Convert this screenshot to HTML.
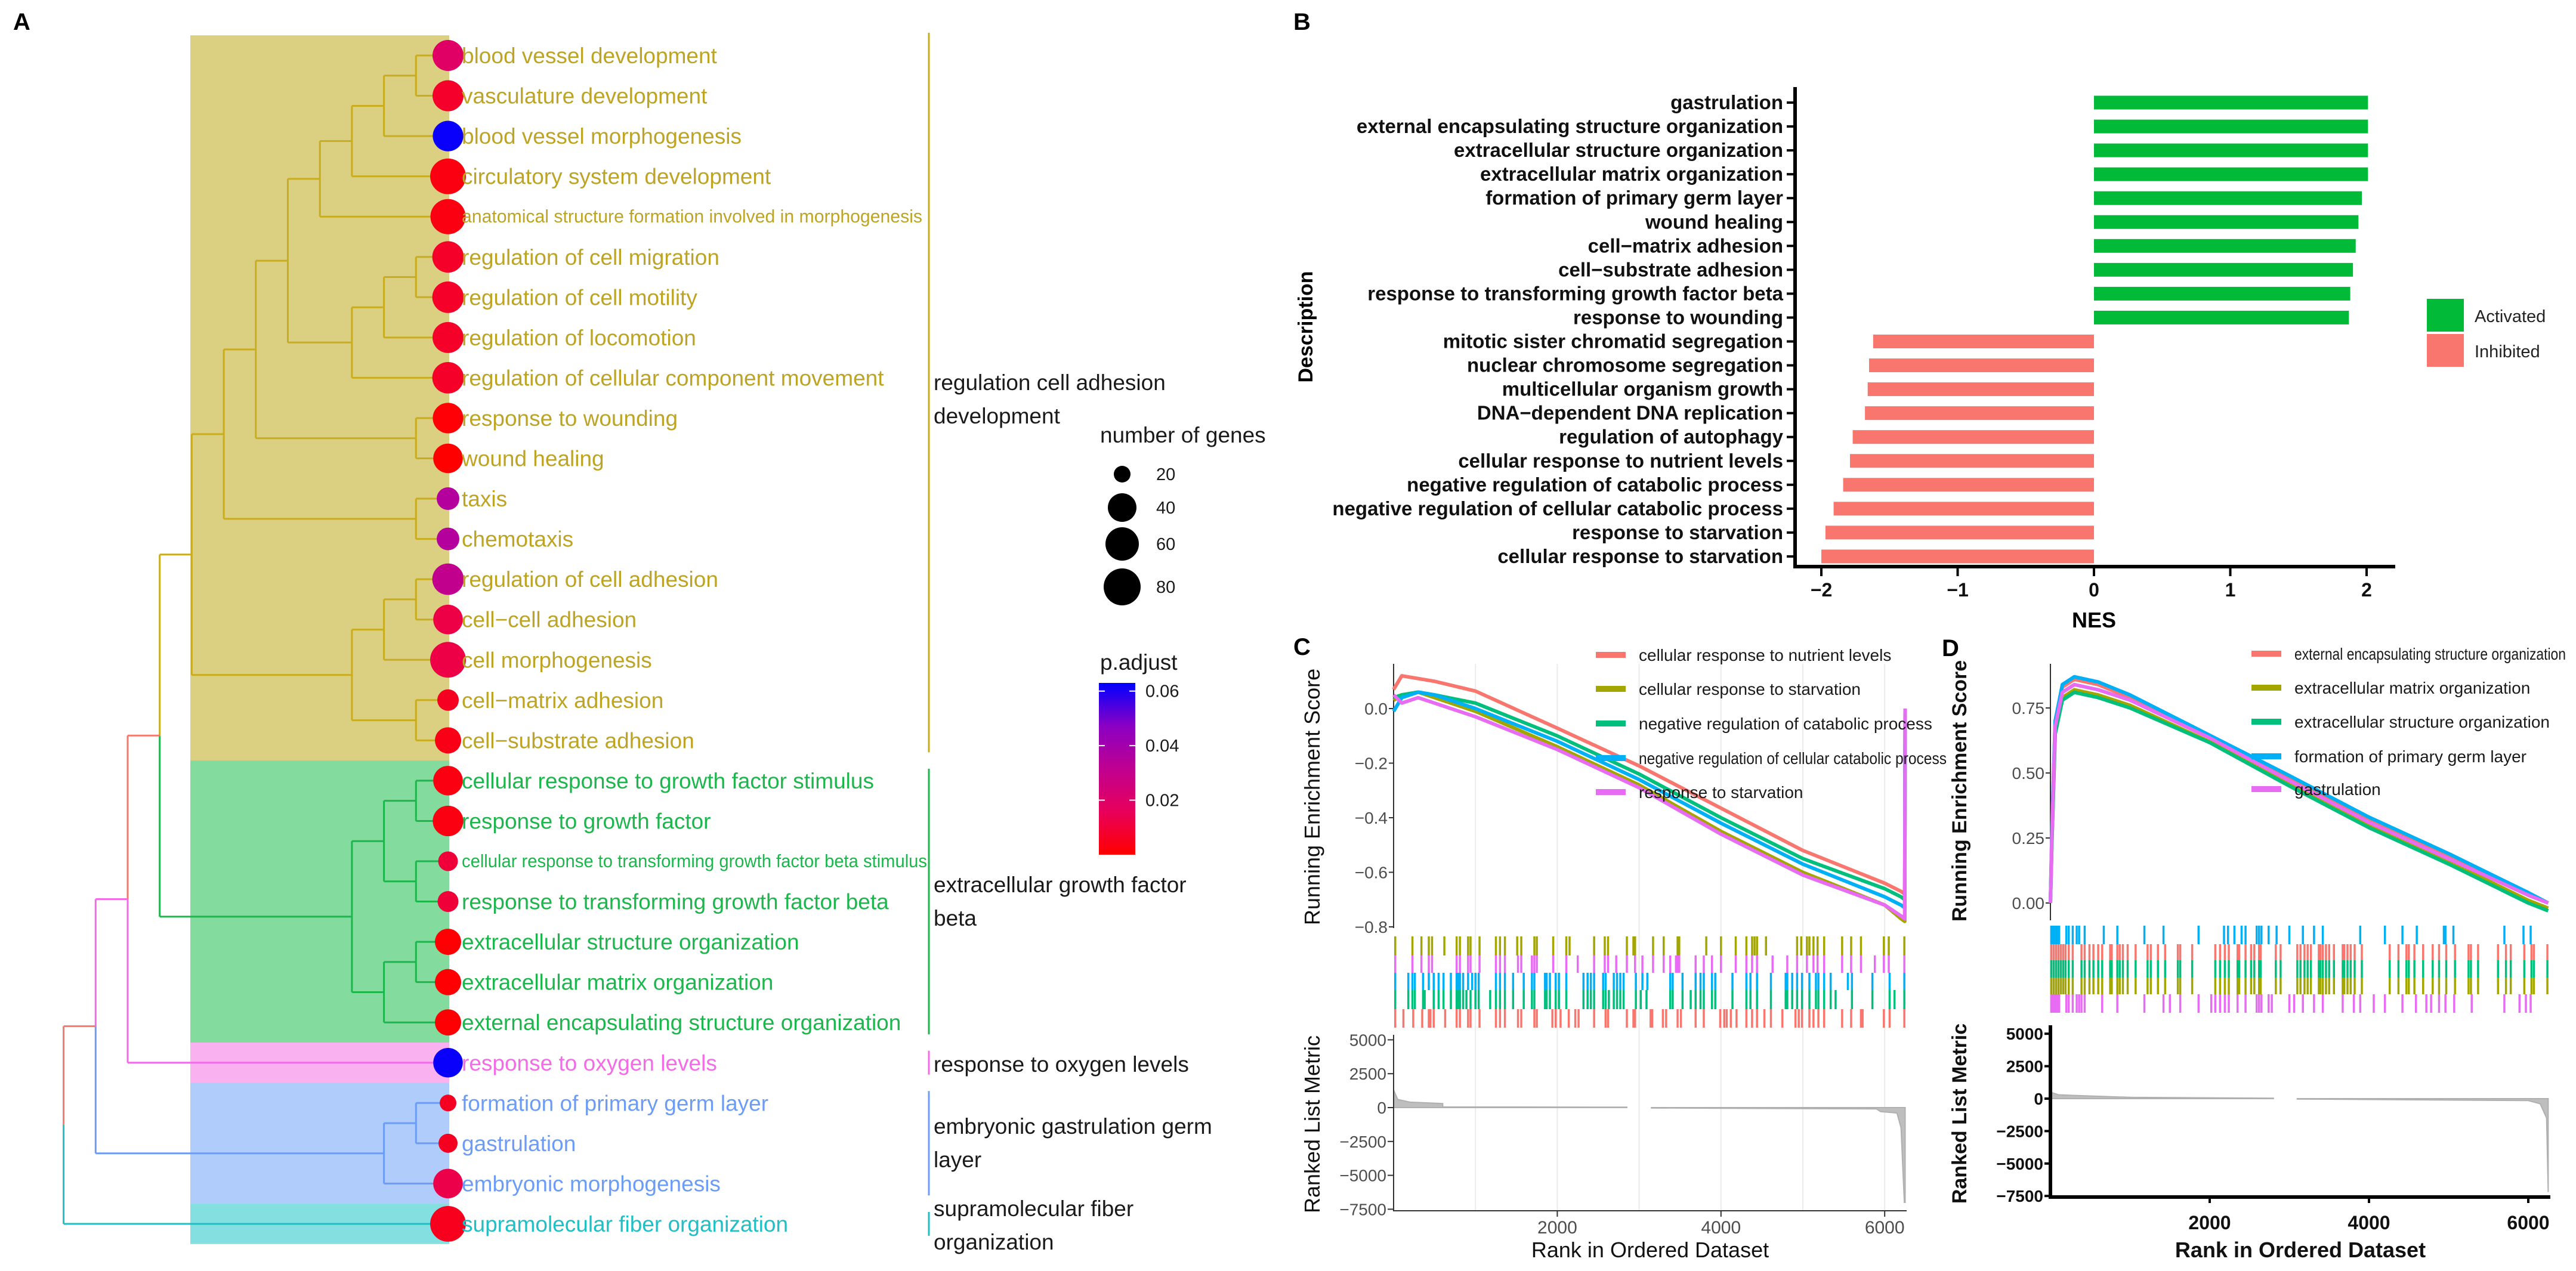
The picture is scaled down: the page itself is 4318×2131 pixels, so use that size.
<!DOCTYPE html>
<html><head><meta charset="utf-8">
<style>
body{margin:0;background:#fff}
svg{display:block;font-family:"Liberation Sans",Arial,sans-serif}
</style></head>
<body>
<svg id="fig" width="4318" height="2131" viewBox="0 0 4318 2131">
<defs>
<linearGradient id="pgrad" x1="0" y1="1" x2="0" y2="0">
<stop offset="0" stop-color="#FF0000"/><stop offset="0.25" stop-color="#E8005A"/><stop offset="0.5" stop-color="#C00090"/><stop offset="0.75" stop-color="#8A00C4"/><stop offset="1" stop-color="#0000FF"/>
</linearGradient>
</defs>
<rect width="4318" height="2131" fill="#fff"/>
<text x="22" y="50" font-size="40" font-weight="bold">A</text>
<text x="2168" y="50" font-size="40" font-weight="bold">B</text>
<text x="2168" y="1098" font-size="40" font-weight="bold">C</text>
<text x="3255" y="1100" font-size="40" font-weight="bold">D</text>
<g id="gA"></g>
<g id="gB"></g>
<g id="gC"></g>
<g id="gD"></g>
</svg>
<script>
// ---------- Panel A data ----------
const termLabels=["blood vessel development","vasculature development","blood vessel morphogenesis","circulatory system development","anatomical structure formation involved in morphogenesis","regulation of cell migration","regulation of cell motility","regulation of locomotion","regulation of cellular component movement","response to wounding","wound healing","taxis","chemotaxis","regulation of cell adhesion","cell\u2212cell adhesion","cell morphogenesis","cell\u2212matrix adhesion","cell\u2212substrate adhesion","cellular response to growth factor stimulus","response to growth factor","cellular response to transforming growth factor beta stimulus","response to transforming growth factor beta","extracellular structure organization","extracellular matrix organization","external encapsulating structure organization","response to oxygen levels","formation of primary germ layer","gastrulation","embryonic morphogenesis","supramolecular fiber organization"];
const termCluster=[0,0,0,0,0,0,0,0,0,0,0,0,0,0,0,0,0,0,1,1,1,1,1,1,1,2,3,3,3,4];
const geneCounts=[50,50,48,73,70,52,52,50,52,48,44,30,30,52,44,73,28,36,44,48,25,27,36,36,36,44,20,24,44,73];
const pAdjust=[0.019,0.0075,0.062,0.003,0.003,0.007,0.007,0.007,0.007,0.001,0.0002,0.035,0.035,0.031,0.012,0.012,0.006,0.004,0.003,0.003,0.01,0.01,0.0005,0.0005,0.0005,0.062,0.006,0.006,0.013,0.005];
const clusterNames=[["regulation cell adhesion","development"],["extracellular growth factor","beta"],["response to oxygen levels"],["embryonic gastrulation germ","layer"],["supramolecular fiber","organization"]];
const sizeLegendValues=[20,40,60,80];
const pLegendTicks=[0.02,0.04,0.06];
// tree: [height, left, right, colourOverride]
const treeA=[12,[11,[10,[9,[8,[7,[6,[5,[4,[3,[2,[1,0,1],2],3],4],[3,[2,[1,5,6],7],8]],[1,9,10]],[1,11,12]],[3,[2,[1,13,14],15],[1,16,17]]],[3,[2,[1,18,19],[1,20,21]],[2,[1,22,23],24]]],25,'pink'],[2,[1,26,27],28]],29];

// ---------- Panel B data ----------
const bLabels=["gastrulation","external encapsulating structure organization","extracellular structure organization","extracellular matrix organization","formation of primary germ layer","wound healing","cell\u2212matrix adhesion","cell\u2212substrate adhesion","response to transforming growth factor beta","response to wounding","mitotic sister chromatid segregation","nuclear chromosome segregation","multicellular organism growth","DNA\u2212dependent DNA replication","regulation of autophagy","cellular response to nutrient levels","negative regulation of catabolic process","negative regulation of cellular catabolic process","response to starvation","cellular response to starvation"];
const nesValues=[2.01,2.01,2.01,2.01,1.965,1.94,1.92,1.90,1.88,1.87,-1.62,-1.65,-1.66,-1.68,-1.77,-1.79,-1.84,-1.91,-1.97,-2.00];
const nesTicks=[-2,-1,0,1,2];

// ---------- Panel C data ----------
const cNames=["cellular response to nutrient levels","cellular response to starvation","negative regulation of catabolic process","negative regulation of cellular catabolic process","response to starvation"];
const cRanks=[0,100,300,500,1000,2000,3000,4000,5000,6000,6200,6245,6250];
const cRed=[0.07,0.12,0.11,0.10,0.064,-0.072,-0.21,-0.365,-0.52,-0.64,-0.67,-0.68,0];
const cOlive=[0.03,0.05,0.06,0.04,-0.01,-0.14,-0.28,-0.45,-0.60,-0.72,-0.77,-0.78,0];
const cGreen=[0.04,0.05,0.06,0.05,0.02,-0.10,-0.24,-0.40,-0.55,-0.66,-0.69,-0.70,0];
const cBlue=[-0.01,0.04,0.06,0.05,0.0,-0.12,-0.26,-0.42,-0.57,-0.69,-0.72,-0.73,0];
const cPink=[0.05,0.02,0.04,0.02,-0.03,-0.15,-0.29,-0.46,-0.61,-0.72,-0.76,-0.77,0];
const cHitsOlive=[20,230,340,430,470,620,770,810,910,940,1050,1250,1300,1360,1510,1560,1720,1750,1950,2110,2150,2450,2580,2620,2850,2930,2950,3170,3300,3470,3490,3820,4000,4180,4310,4380,4410,4440,4550,4930,4980,5050,5080,5130,5180,5260,5480,5590,5710,5990,6050,6240];
const cHitsPink=[20,230,340,430,470,770,810,910,940,1050,1250,1300,1360,1520,1560,1690,1720,1750,1950,2110,2250,2450,2580,2620,2720,2850,2950,3040,3170,3300,3380,3450,3470,3490,3690,3790,3890,4000,4180,4310,4380,4440,4630,4810,4930,5050,5130,5180,5260,5480,5590,5710,5880,5990,6050,6240];
const cHitsBlue=[20,180,230,260,360,430,490,550,610,700,770,790,810,850,910,960,1000,1040,1250,1300,1360,1460,1590,1690,1720,1850,1870,1910,1980,2020,2110,2320,2370,2410,2450,2560,2590,2690,2730,2770,2810,2960,3040,3100,3380,3410,3530,3690,3750,3790,3890,3930,4140,4310,4360,4440,4610,4790,4810,4870,4930,4990,5080,5160,5190,5260,5340,5550,5600,5850,6060,6240];
const cHitsGreen=[20,180,230,260,360,380,490,550,610,700,770,790,810,850,890,940,1000,1040,1180,1250,1300,1360,1460,1590,1690,1720,1850,1870,1910,1980,2020,2110,2320,2370,2410,2450,2560,2590,2630,2690,2730,2770,2810,2960,3020,3090,3380,3410,3530,3630,3690,3750,3790,3890,3930,4140,4310,4360,4440,4610,4790,4810,4870,4930,4990,5080,5160,5190,5260,5340,5400,5600,5850,6060,6120,6240];
const cHitsRed=[20,120,240,350,430,450,490,630,770,810,910,940,1050,1250,1300,1360,1520,1560,1720,1750,1940,1980,2040,2140,2220,2260,2450,2590,2620,2850,2930,2950,3140,3160,3290,3330,3470,3510,3690,3790,3990,4040,4070,4120,4190,4310,4380,4440,4530,4610,4750,4910,4950,4990,5080,5130,5190,5260,5480,5590,5710,5730,5990,6060,6240];
const cMetricRanksA=[0,50,200,600,601,2850];
const cMetricValsA=[1300,600,400,300,50,30];
const cMetricRanksB=[3150,5900,5950,6150,6200,6240,6250];
const cMetricValsB=[-30,-100,-300,-400,-1500,-7000,-7000];
const cEsTicks=[0.0,-0.2,-0.4,-0.6,-0.8];
const metricTicks=[5000,2500,0,-2500,-5000,-7500];
const rankTicks=[2000,4000,6000];

// ---------- Panel D data ----------
const dNames=["external encapsulating structure organization","extracellular matrix organization","extracellular structure organization","formation of primary germ layer","gastrulation"];
const dRanks=[0,20,60,150,300,600,1000,2000,3000,4000,5000,6000,6250];
const dRed=[0,0.3,0.7,0.83,0.86,0.84,0.79,0.64,0.48,0.32,0.18,0.03,0.0];
const dOlive=[0,0.25,0.65,0.79,0.82,0.80,0.76,0.62,0.46,0.30,0.16,0.01,-0.02];
const dGreen=[0,0.25,0.65,0.78,0.81,0.79,0.75,0.617,0.45,0.29,0.15,0.0,-0.03];
const dBlue=[0,0.3,0.7,0.84,0.87,0.85,0.80,0.645,0.49,0.33,0.19,0.04,0.0];
const dPink=[0,0.28,0.68,0.81,0.84,0.82,0.78,0.635,0.47,0.31,0.17,0.03,0.0];
const dHitsBlue=[10,30,50,70,90,110,200,230,280,330,360,430,670,840,1180,1420,1860,2180,2230,2310,2400,2450,2590,2620,2650,2740,2840,3000,3170,3310,3420,3890,4200,4420,4600,4940,4960,5060,5700,5940,6030];
const dHitsShared=[10,40,70,100,130,160,190,230,280,390,430,490,540,600,650,750,770,840,870,910,970,1070,1220,1260,1350,1440,1600,1630,1780,2070,2130,2190,2240,2350,2370,2450,2520,2560,2620,2640,2830,2890,3100,3140,3190,3230,3270,3370,3390,3420,3460,3500,3560,3670,3690,3730,3770,3820,3910,4260,4370,4470,4500,4570,4680,4800,4880,4970,5080,5250,5280,5370,5620,5720,5780,5950,6040,6070,6240];
const dHitsPink=[10,30,50,70,90,110,200,230,280,330,360,390,430,650,840,1180,1420,1500,1630,1860,2020,2070,2130,2190,2240,2350,2450,2590,2620,2650,2740,2780,3000,3060,3170,3310,3420,3670,3810,3890,4060,4200,4420,4590,4720,4780,4880,4960,5070,5290,5700,5890,5970,6030];
const dMetricRanksA=[0,100,300,1000,2800];
const dMetricValsA=[500,300,250,100,30];
const dMetricRanksB=[3100,6000,6150,6230,6250];
const dMetricValsB=[-30,-150,-400,-1500,-7200];
const dEsTicks=[0.00,0.25,0.50,0.75];

// ---------- helpers ----------
const NS='http://www.w3.org/2000/svg';
function mk(tag,attrs,parent,txt){const e=document.createElementNS(NS,tag);for(const k in attrs)e.setAttribute(k,attrs[k]);if(txt!==undefined)e.textContent=txt;parent.appendChild(e);return e;}
const gA=document.getElementById('gA'),gB=document.getElementById('gB'),gC=document.getElementById('gC'),gD=document.getElementById('gD');
const SERIES=['#F8766D','#A3A500','#00BF7D','#00B0F6','#E76BF3'];

// ---------- Panel A ----------
const CL_LINE=['#C9AD1F','#1DB64C','#F46BE8','#6C9CF5','#1FBFC6'];
const CL_FILL=['#DBCF82','#83DB9E','#F9B1EF','#B0CCFB','#84DFE0'];
const CL_TEXT=['#BDA424','#1DB64C','#F46BE8','#6C9CF5','#1FBFC6'];
const RED='#F47A6E';
function leafY(i){return 93+67.55*i;}
function hx(h){return 751-53.7*h;}
const LEAFX=751;
function sizeR(n){const r=[14,24,28,31];const v=sizeLegendValues;if(n<=v[0])return r[0]*Math.sqrt(n/v[0]);for(let i=1;i<v.length;i++){if(n<=v[i])return r[i-1]+(r[i]-r[i-1])*(n-v[i-1])/(v[i]-v[i-1]);}return r[3]+(n-80)*0.15;}
const STOPS=[[0,[255,0,0]],[0.25,[232,0,90]],[0.5,[192,0,144]],[0.75,[138,0,196]],[1,[0,0,255]]];
const PMAX=0.063;
function pColor(p){let t=Math.max(0,Math.min(1,p/PMAX));for(let i=1;i<STOPS.length;i++){if(t<=STOPS[i][0]){const a=STOPS[i-1],b=STOPS[i];const f=(t-a[0])/(b[0]-a[0]);const c=a[1].map((x,k)=>Math.round(x+(b[1][k]-x)*f));return 'rgb('+c.join(',')+')';}}return 'rgb(0,0,255)';}
for(let c=0;c<5;c++){
  const idx=termCluster.map((v,i)=>v===c?i:-1).filter(i=>i>=0);
  const y0=leafY(idx[0])-33.8,y1=leafY(idx[idx.length-1])+33.8;
  const r=mk('rect',{x:319,y:y0,width:434,height:y1-y0,fill:CL_FILL[c]},gA);
  
  
  const b=mk('line',{x1:1557,y1:leafY(idx[0])-(c===0?38:20),x2:1557,y2:leafY(idx[idx.length-1])+20,stroke:CL_LINE[c],'stroke-width':3},gA);
  
  
}
const clusterLabelY=[654,1496,1797,1901,2039];
clusterNames.forEach((lines,c)=>{lines.forEach((s,j)=>{
  const t=mk('text',{x:1565,y:clusterLabelY[c]+j*56,'font-size':37,fill:'#1a1a1a'},gA,s);
  
  
});});
const treeLines=mk('g',{'stroke-width':3,fill:'none'},gA);


const colMap={pink:CL_LINE[2]};
function seg(x1,y1,x2,y2,col){const l=mk('line',{x1,y1,x2,y2,stroke:col},treeLines);}
function drawNode(n){
  if(typeof n==='number')return {x:LEAFX,y:leafY(n),col:CL_LINE[termCluster[n]]};
  const a=drawNode(n[1]),b=drawNode(n[2]);const x=hx(n[0]);const y=(a.y+b.y)/2;
  seg(x,a.y,a.x,a.y,a.col);seg(x,b.y,b.x,b.y,b.col);
  seg(x,a.y,x,y,a.col);seg(x,y,x,b.y,b.col);
  const col=n[3]?colMap[n[3]]:(a.col===b.col?a.col:RED);
  return {x,y,col};
}
drawNode(treeA);
termLabels.forEach((s,i)=>{
  const c=mk('circle',{cx:LEAFX,cy:leafY(i),r:sizeR(geneCounts[i]),fill:pColor(pAdjust[i])},gA);
  
  
  const long=s.length>52;
  const attrs={x:774,y:leafY(i)+(long?10:13),'font-size':long?31:37,fill:CL_TEXT[termCluster[i]]};
  if(long){attrs.textLength=s.startsWith('anatomical')?772:780;attrs.lengthAdjust='spacingAndGlyphs';}
  const t=mk('text',attrs,gA,s);
  
  
});
const lt=mk('text',{x:1844,y:742,'font-size':37,fill:'#1a1a1a'},gA,'number of genes');


const sizeLegY=[795,851,912,984];
sizeLegendValues.forEach((v,i)=>{
  const c=mk('circle',{cx:1881,cy:sizeLegY[i],r:sizeR(v),fill:'#000'},gA);
  
  
  const t=mk('text',{x:1938,y:sizeLegY[i]+10,'font-size':29,fill:'#1a1a1a'},gA,String(v));
  
  
});
const pt=mk('text',{x:1844,y:1123,'font-size':37,fill:'#1a1a1a'},gA,'p.adjust');


const cb=mk('rect',{x:1842,y:1145,width:61,height:288,fill:'url(#pgrad)'},gA);


pLegendTicks.forEach(v=>{
  const y=1433-v/PMAX*288;
  mk('line',{x1:1842,y1:y,x2:1852,y2:y,stroke:'#fff','stroke-width':2},gA);
  mk('line',{x1:1893,y1:y,x2:1903,y2:y,stroke:'#fff','stroke-width':2},gA);
  const t=mk('text',{x:1920,y:y+10,'font-size':29,fill:'#1a1a1a'},gA,v.toFixed(2));
  
  
});

// ---------- Panel B ----------
const bx0=3510,bUnit=228.5;
function bX(v){return bx0+v*bUnit;}
function bY(i){return 172+40.05*i;}
nesValues.forEach((v,i)=>{
  const x=Math.min(bX(0),bX(v)),w=Math.abs(bX(v)-bX(0));
  const r=mk('rect',{x,y:bY(i)-11.5,width:w,height:23,fill:v>0?'#00BA38':'#F8766D'},gB);
  
  
  const t=mk('text',{x:2989,y:bY(i)+11,'font-size':33,'font-weight':'bold','text-anchor':'end',fill:'#111'},gB,bLabels[i]);
  
  
  mk('line',{x1:2995,y1:bY(i),x2:3009,y2:bY(i),stroke:'#000','stroke-width':4},gB);
});
const bAxY=mk('line',{x1:3009,y1:146,x2:3009,y2:953,stroke:'#000','stroke-width':6},gB);


const bAxX=mk('line',{x1:3006,y1:950,x2:4015,y2:950,stroke:'#000','stroke-width':6},gB);


nesTicks.forEach(v=>{
  mk('line',{x1:bX(v),y1:950,x2:bX(v),y2:966,stroke:'#000','stroke-width':4},gB);
  const t=mk('text',{x:bX(v),y:1000,'font-size':32,'font-weight':'bold','text-anchor':'middle',fill:'#111'},gB,v<0?'\u2212'+(-v):String(v));
  
  
});
const nesT=mk('text',{x:3510,y:1052,'font-size':36,'font-weight':'bold','text-anchor':'middle'},gB,'NES');


const descT=mk('text',{x:0,y:0,'font-size':34,'font-weight':'bold','text-anchor':'middle',transform:'translate(2200,548) rotate(-90)'},gB,'Description');


[['Activated','#00BA38',501],['Inhibited','#F8766D',560]].forEach(([s,col,y])=>{
  const r=mk('rect',{x:4068,y,width:62,height:55,fill:col},gB);
  
  
  const t=mk('text',{x:4148,y:y+39,'font-size':29,fill:'#222'},gB,s);
  
  
});

// ---------- GSEA helper ----------
function gsea(g,o){
  const X=r=>o.x0+r*o.xs;
  const YE=v=>o.ye0-v*o.yes;
  const YM=m=>o.ym0-m*o.yms/2500;
  if(o.grid){rankTicks.concat([1000,3000,5000]).forEach(r=>{
    const gl=mk('line',{x1:X(r),y1:o.top,x2:X(r),y2:o.bottom,stroke:'#EBEBEB','stroke-width':2},g);
    
    
  });}
  mk('line',{x1:o.x0,y1:o.top,x2:o.x0,y2:o.esBottom,stroke:'#333','stroke-width':2},g);
  o.esTicks.forEach(v=>{
    mk('line',{x1:o.x0-8,y1:YE(v),x2:o.x0,y2:YE(v),stroke:'#333','stroke-width':2},g);
    const t=mk('text',{x:o.x0-10,y:YE(v)+10,'font-size':28,'text-anchor':'end',fill:'#4D4D4D'},g,(v<0?'\u2212':'')+Math.abs(v).toFixed(o.esDec));
    
    
  });
  o.curves.forEach((arr,k)=>{
    const pts=o.ranks.map((r,i)=>X(r).toFixed(1)+','+YE(arr[i]).toFixed(1)).join(' ');
    const p=mk('polyline',{points:pts,fill:'none',stroke:SERIES[k],'stroke-width':6,'stroke-linejoin':'round'},g);
    
    
  });
  o.rugs.forEach(([hits,col,y0,y1])=>{
    hits.forEach(r=>{
      const l=mk('line',{x1:X(r),y1:y0,x2:X(r),y2:y1,stroke:col,'stroke-width':3.5},g);
      
      
    });
  });
  [[o.mrA,o.mvA],[o.mrB,o.mvB]].forEach(([rs,vs])=>{
    let d='M'+X(rs[0])+','+YM(0);
    rs.forEach((r,i)=>{d+=' L'+X(r).toFixed(1)+','+YM(vs[i]).toFixed(1);});
    d+=' L'+X(rs[rs.length-1])+','+YM(0)+'Z';
    const p=mk('path',{d,fill:'#BEBEBE',stroke:'#B0B0B0','stroke-width':2},g);
    
    
  });
  const ax=o.thick?6:2,axc=o.thick?'#000':'#333';
  mk('line',{x1:o.x0,y1:o.mTop,x2:o.x0,y2:o.bottom+ax/2,stroke:axc,'stroke-width':ax},g);
  mk('line',{x1:o.x0-ax/2,y1:o.bottom,x2:o.xEnd,y2:o.bottom,stroke:axc,'stroke-width':ax},g);
  metricTicks.forEach(v=>{
    mk('line',{x1:o.x0-10,y1:YM(v),x2:o.x0,y2:YM(v),stroke:axc,'stroke-width':o.thick?4:2},g);
    const t=mk('text',{x:o.x0-12,y:YM(v)+10,'font-size':28,'font-weight':o.thick?'bold':'normal','text-anchor':'end',fill:o.thick?'#111':'#4D4D4D'},g,(v<0?'\u2212':'')+Math.abs(v));
    
    
  });
  rankTicks.forEach(r=>{
    mk('line',{x1:X(r),y1:o.bottom,x2:X(r),y2:o.bottom+10,stroke:axc,'stroke-width':o.thick?4:2},g);
    const t=mk('text',{x:X(r),y:o.bottom+(o.thick?54:38),'font-size':o.thick?32:30,'font-weight':o.thick?'bold':'normal','text-anchor':'middle',fill:o.thick?'#111':'#4D4D4D'},g,String(r));
    
    
  });
  const xt=mk('text',{x:(o.x0+o.xEnd)/2,y:2108,'font-size':36,'font-weight':o.thick?'bold':'normal','text-anchor':'middle',fill:'#111'},g,'Rank in Ordered Dataset');
  
  
  const y1=mk('text',{x:0,y:0,'font-size':o.thick?34:36,'font-weight':o.thick?'bold':'normal','text-anchor':'middle',fill:'#111',transform:'translate('+o.ylabX+','+o.esLabY+') rotate(-90)'},g,'Running Enrichment Score');
  
  
  const y2=mk('text',{x:0,y:0,'font-size':o.thick?34:36,'font-weight':o.thick?'bold':'normal','text-anchor':'middle',fill:'#111',transform:'translate('+o.ylabX+','+o.mLabY+') rotate(-90)'},g,'Ranked List Metric');
  
  
  o.names.forEach((s,k)=>{
    const y=o.legY[k];
    const l=mk('line',{x1:o.legX,y1:y,x2:o.legX+50,y2:y,stroke:SERIES[k],'stroke-width':10},g);
    
    
    const attrs={x:o.legX+72,y:y+10,'font-size':28,fill:'#1a1a1a'};
    if(o.legLen[k]){attrs.textLength=o.legLen[k];attrs.lengthAdjust='spacingAndGlyphs';}
    const t=mk('text',attrs,g,s);
    
    
  });
}
gsea(gC,{x0:2336,xs:0.1372,xEnd:3196,ye0:1188,yes:457.5,ym0:1857,yms:56.8,top:1113,esBottom:1556,mTop:1735,bottom:2030,grid:true,thick:false,esTicks:cEsTicks,esDec:1,
  ranks:cRanks,curves:[cRed,cOlive,cGreen,cBlue,cPink],
  rugs:[[cHitsOlive,SERIES[1],1570,1602],[cHitsPink,SERIES[4],1602,1631],[cHitsBlue,SERIES[3],1631,1660],[cHitsGreen,SERIES[2],1660,1692],[cHitsRed,SERIES[0],1692,1723]],
  mrA:cMetricRanksA,mvA:cMetricValsA,mrB:cMetricRanksB,mvB:cMetricValsB,
  ylabX:2212,esLabY:1336,mLabY:1885,names:cNames,legX:2675,legY:[1098,1155,1213,1271,1328],legLen:[0,0,0,516,0]});
gsea(gD,{x0:3437,xs:0.1335,xEnd:4275,ye0:1514,yes:436,ym0:1842,yms:54.4,top:1113,esBottom:1543,mTop:1719,bottom:2007,grid:false,thick:true,esTicks:dEsTicks,esDec:2,
  ranks:dRanks,curves:[dRed,dOlive,dGreen,dBlue,dPink],
  rugs:[[dHitsBlue,SERIES[3],1552,1583],[dHitsShared,SERIES[0],1583,1610],[dHitsShared,SERIES[2],1610,1639],[dHitsShared,SERIES[1],1639,1667],[dHitsPink,SERIES[4],1667,1698]],
  mrA:dMetricRanksA,mvA:dMetricValsA,mrB:dMetricRanksB,mvB:dMetricValsB,
  ylabX:3296,esLabY:1326,mLabY:1867,names:dNames,legX:3774,legY:[1096,1153,1210,1268,1323],legLen:[455,0,0,0,0]});
</script>
</body></html>
